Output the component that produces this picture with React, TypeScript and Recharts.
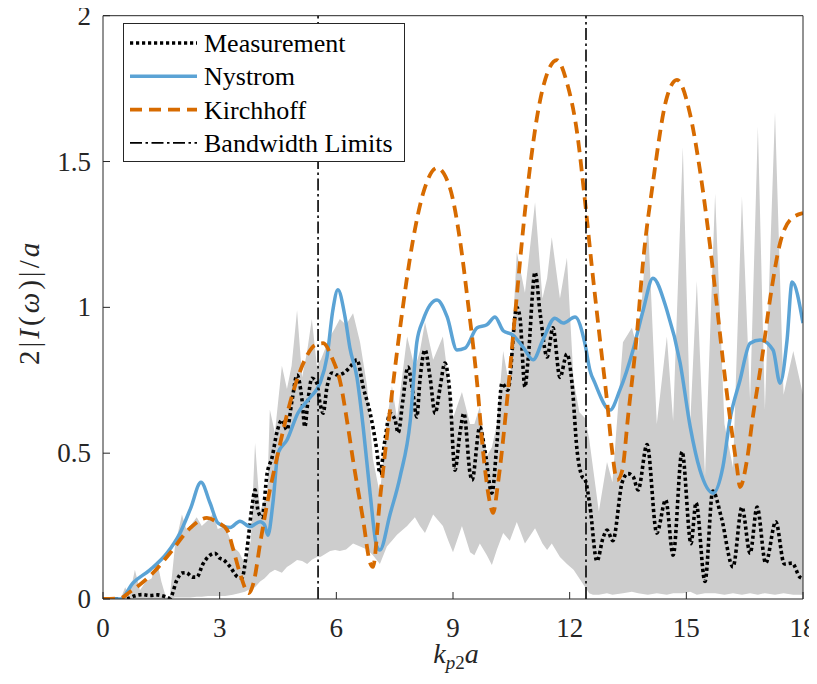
import React from "react";
import { Area, ComposedChart, Legend, Line, ReferenceLine, XAxis, YAxis } from "recharts";

// gray envelope of the measurements (shared x, low / high edge)
const bandX = [
  0, 0.45, 0.57, 0.68, 0.82, 0.95, 1.1, 1.25, 1.39, 1.5, 1.62, 1.72, 1.85, 2.03, 2.14, 2.24, 2.41,
  2.54, 2.7, 2.84, 2.95, 3.14, 3.34, 3.5, 3.65, 3.8, 3.91, 4.04, 4.15, 4.22, 4.29, 4.42, 4.6, 4.73,
  4.85, 4.99, 5.12, 5.25, 5.37, 5.5, 5.6, 5.84, 5.97, 6.09, 6.25, 6.43, 6.61, 6.79, 6.94, 7.12, 7.3,
  7.43, 7.56, 7.82, 8.02, 8.15, 8.28, 8.49, 8.74, 8.88, 9.0, 9.23, 9.44, 9.55, 9.69, 9.87, 10.0,
  10.13, 10.29, 10.46, 10.64, 10.85, 11.11, 11.3, 11.42, 11.54, 11.75, 11.93, 12.1, 12.25, 12.4,
  12.5, 12.6, 12.75, 12.96, 13.1, 13.37, 13.6, 13.76, 14.01, 14.24, 14.5, 14.66, 14.91, 15.1, 15.27,
  15.48, 15.74, 15.98, 16.2, 16.43, 16.64, 16.84, 17.02, 17.28, 17.5, 17.75, 18,
];
const bandLow = [
  0, 0, 0, 0, 0, 0, 0, 0, 0, 0, 0, 0, 0.005, 0.005, 0.005, 0.005, 0.008, 0.008, 0.01, 0.01, 0.01,
  0.01, 0.015, 0.02, 0.025, 0.035, 0.04, 0.06, 0.07, 0.08, 0.09, 0.1, 0.09, 0.11, 0.12, 0.134, 0.13,
  0.12, 0.135, 0.144, 0.145, 0.165, 0.168, 0.165, 0.17, 0.19, 0.18, 0.17, 0.15, 0.12, 0.18, 0.2, 0.22,
  0.25, 0.28, 0.25, 0.226, 0.29, 0.25, 0.2, 0.16, 0.25, 0.16, 0.15, 0.19, 0.15, 0.117, 0.17, 0.226,
  0.2, 0.264, 0.19, 0.243, 0.19, 0.168, 0.19, 0.144, 0.12, 0.1, 0.07, 0.04, 0.02, 0.015, 0.015, 0.02,
  0.015, 0.02, 0.025, 0.02, 0.015, 0.02, 0.015, 0.02, 0.02, 0.025, 0.015, 0.02, 0.02, 0.015, 0.02,
  0.015, 0.02, 0.015, 0.02, 0.015, 0.02, 0.015, 0.015,
];
const bandHigh = [
  0, 0, 0.04, 0.01, 0.1, 0.03, 0.06, 0.07, 0.13, 0.06, 0.005, 0.01, 0.18, 0.29, 0.24, 0.25, 0.28,
  0.25, 0.27, 0.295, 0.24, 0.25, 0.18, 0.16, 0.12, 0.2, 0.535, 0.3, 0.34, 0.35, 0.65, 0.57, 0.8, 0.72,
  0.8, 0.99, 0.76, 0.85, 0.96, 0.8, 0.82, 0.9, 0.93, 0.96, 0.94, 0.98, 0.88, 0.73, 0.48, 0.36, 0.61,
  0.73, 0.62, 0.9, 0.79, 0.85, 0.95, 0.82, 0.9, 0.75, 0.62, 0.71, 0.6, 0.6, 0.66, 0.49, 0.52, 0.6,
  0.85, 0.72, 1.19, 1.05, 1.36, 1.03, 1.1, 1.24, 1.03, 1.17, 0.75, 0.64, 0.62, 0.55, 0.45, 0.3, 0.47,
  0.4, 0.88, 0.93, 0.85, 1.3, 0.6, 0.9, 0.61, 1.55, 0.6, 1.09, 0.42, 1.39, 0.6, 0.45, 1.38, 0.68,
  1.62, 0.65, 1.67, 0.7, 0.85, 0.7,
];

const measX = [
  0, 0.6, 0.8, 1.0, 1.2, 1.4, 1.55, 1.72, 1.9, 2.03, 2.14, 2.31, 2.41, 2.57, 2.75, 2.88, 3.0, 3.1,
  3.27, 3.47, 3.57, 3.7, 3.83, 3.91, 3.99, 4.09, 4.22, 4.35, 4.47, 4.6, 4.73, 4.86, 4.99, 5.12, 5.19,
  5.27, 5.37, 5.5, 5.58, 5.66, 5.76, 5.89, 6.02, 6.22, 6.35, 6.53, 6.69, 6.87, 7.04, 7.12, 7.25, 7.38,
  7.51, 7.59, 7.71, 7.84, 7.97, 8.07, 8.15, 8.28, 8.41, 8.54, 8.67, 8.79, 8.92, 9.05, 9.18, 9.28,
  9.44, 9.49, 9.69, 9.82, 10.0, 10.13, 10.26, 10.41, 10.64, 10.72, 10.85, 10.93, 11.11, 11.24, 11.42,
  11.57, 11.75, 11.93, 12.06, 12.19, 12.32, 12.4, 12.52, 12.7, 12.86, 12.96, 13.11, 13.35, 13.5,
  13.63, 13.76, 13.99, 14.24, 14.47, 14.66, 14.89, 15.12, 15.25, 15.48, 15.68, 15.9, 16.2, 16.43,
  16.64, 16.82, 17.04, 17.3, 17.52, 17.72, 17.92, 18,
];
const measY = [
  0, 0, 0.01, 0.015, 0.012, 0.014, 0.01, 0.003, 0.065, 0.089, 0.09, 0.075, 0.075, 0.12, 0.15, 0.157,
  0.14, 0.134, 0.11, 0.075, 0.072, 0.168, 0.315, 0.374, 0.3, 0.28, 0.43, 0.487, 0.57, 0.614, 0.58,
  0.68, 0.768, 0.68, 0.59, 0.68, 0.757, 0.74, 0.672, 0.637, 0.727, 0.775, 0.768, 0.778, 0.795, 0.82,
  0.727, 0.637, 0.51, 0.43, 0.545, 0.637, 0.614, 0.57, 0.68, 0.795, 0.706, 0.624, 0.75, 0.854, 0.76,
  0.637, 0.727, 0.809, 0.706, 0.442, 0.57, 0.637, 0.43, 0.408, 0.59, 0.51, 0.363, 0.535, 0.74, 0.716,
  1.0, 0.967, 0.727, 0.82, 1.12, 0.98, 0.83, 0.93, 0.76, 0.84, 0.74, 0.51, 0.42, 0.408, 0.32, 0.13,
  0.21, 0.236, 0.2, 0.4, 0.43, 0.42, 0.374, 0.53, 0.226, 0.34, 0.15, 0.505, 0.19, 0.33, 0.06, 0.37,
  0.28, 0.11, 0.315, 0.157, 0.315, 0.123, 0.265, 0.12, 0.123, 0.075, 0.07,
];

const nystromX = [
  0, 0.45, 0.77, 1.21, 1.65, 1.98, 2.25, 2.52, 2.75, 2.96, 3.27, 3.52, 3.78, 4.04, 4.15, 4.24, 4.37,
  4.5, 4.73, 5.01, 5.32, 5.58, 5.76, 5.91, 6.04, 6.22, 6.35, 6.53, 6.69, 6.87, 7.04, 7.12, 7.38, 7.64,
  7.9, 8.07, 8.23, 8.59, 8.85, 9.1, 9.31, 9.62, 9.87, 10.08, 10.29, 10.54, 10.8, 11.06, 11.31, 11.62,
  11.83, 12.14, 12.39, 12.52, 12.65, 13.04, 13.29, 13.63, 13.89, 14.14, 14.5, 14.84, 15.1, 15.35,
  15.69, 15.94, 16.12, 16.38, 16.64, 16.9, 17.23, 17.41, 17.59, 17.72, 18,
];
const nystromY = [
  0, 0, 0.055, 0.1, 0.158, 0.226, 0.31, 0.4, 0.33, 0.26, 0.245, 0.267, 0.248, 0.265, 0.255, 0.219,
  0.33, 0.5, 0.545, 0.637, 0.69, 0.74, 0.83, 0.99, 1.06, 0.97, 0.86, 0.76, 0.59, 0.36, 0.18, 0.168,
  0.29, 0.42, 0.61, 0.88, 0.956, 1.025, 0.967, 0.854, 0.86, 0.93, 0.94, 0.967, 0.92, 0.905, 0.864,
  0.82, 0.888, 0.963, 0.946, 0.967, 0.877, 0.785, 0.74, 0.648, 0.716, 0.854, 0.99, 1.1, 0.99, 0.81,
  0.59, 0.442, 0.363, 0.453, 0.614, 0.75, 0.877, 0.888, 0.854, 0.74, 0.888, 1.087, 0.946,
];

const kirchhoffX = [
  0, 0.45, 0.69, 1.29, 1.72, 2.24, 2.67, 2.93, 3.19, 3.35, 3.52, 3.75, 3.88, 4.04, 4.24, 4.5, 4.76,
  5.01, 5.25, 5.45, 5.66, 5.91, 6.09, 6.3, 6.43, 6.69, 6.87, 6.94, 7.12, 7.38, 7.64, 7.97, 8.23, 8.59,
  8.92, 9.18, 9.39, 9.62, 9.77, 9.95, 10.03, 10.16, 10.39, 10.59, 10.9, 11.24, 11.67, 11.93, 12.19,
  12.39, 12.57, 12.78, 12.96, 13.09, 13.22, 13.35, 13.5, 13.73, 13.89, 14.14, 14.5, 14.76, 15.09,
  15.35, 15.61, 15.79, 15.94, 16.12, 16.3, 16.38, 16.56, 16.71, 16.94, 17.15, 17.41, 17.67, 18,
];
const kirchhoffY = [
  0, 0.003, 0.024, 0.09, 0.157, 0.243, 0.278, 0.264, 0.237, 0.17, 0.089, 0.02, 0.06, 0.19, 0.34, 0.5,
  0.648, 0.76, 0.836, 0.87, 0.877, 0.82, 0.75, 0.59, 0.476, 0.27, 0.123, 0.11, 0.34, 0.648, 0.93,
  1.23, 1.39, 1.478, 1.41, 1.23, 1.01, 0.74, 0.51, 0.33, 0.295, 0.4, 0.68, 0.967, 1.39, 1.71, 1.848,
  1.77, 1.6, 1.37, 1.14, 0.888, 0.68, 0.51, 0.408, 0.44, 0.624, 0.91, 1.16, 1.426, 1.72, 1.78, 1.666,
  1.47, 1.21, 1.0, 0.82, 0.624, 0.453, 0.384, 0.477, 0.624, 0.82, 1.025, 1.22, 1.3, 1.323,
];

const bandwidthLimits = [5.53, 12.42];
const xTicks = [0, 3, 6, 9, 12, 15, 18];
const yTicks = [0, 0.5, 1, 1.5, 2];

const bandRows = bandX.map((x, i) => ({ x, range: [bandLow[i], bandHigh[i]] }));
const measRows = measX.map((x, i) => ({ x, y: measY[i] }));
const nystromRows = nystromX.map((x, i) => ({ x, y: nystromY[i] }));
const kirchhoffRows = kirchhoffX.map((x, i) => ({ x, y: kirchhoffY[i] }));

const axisColor = "#262626";
const serif = "'Liberation Serif', 'Times New Roman', serif";
const blue = "#5BA3D5";
const orange = "#D76B00";
const dotDash = "3.2 2.8";
const kirchDash = "12 7";
const bwDash = "12 3.5 2.5 3.5";

const legendItems = [
  { name: "Measurement", color: "#000", width: 3.6, dash: dotDash },
  { name: "Nystrom", color: blue, width: 3.5, dash: undefined },
  { name: "Kirchhoff", color: orange, width: 3.8, dash: kirchDash },
  { name: "Bandwidth Limits", color: "#000", width: 1.6, dash: bwDash },
];

function BottomTick(props: any) {
  const { x, y, payload } = props;
  return (
    <g>
      <line x1={x} y1={y} x2={x} y2={y - 7} stroke={axisColor} strokeWidth={1} />
      <text x={x} y={y + 38} textAnchor="middle" fontSize={27} fontFamily={serif} fill={axisColor}>
        {payload.value}
      </text>
    </g>
  );
}

function LeftTick(props: any) {
  const { x, y, payload } = props;
  return (
    <g>
      <line x1={x} y1={y} x2={x + 7} y2={y} stroke={axisColor} strokeWidth={1} />
      <text x={x - 12} y={y + 9} textAnchor="end" fontSize={27} fontFamily={serif} fill={axisColor}>
        {payload.value}
      </text>
    </g>
  );
}

function TopTick(props: any) {
  const { x, y } = props;
  return <line x1={x} y1={y} x2={x} y2={y + 7} stroke={axisColor} strokeWidth={1} />;
}

function RightTick(props: any) {
  const { x, y } = props;
  return <line x1={x} y1={y} x2={x - 7} y2={y} stroke={axisColor} strokeWidth={1} />;
}

function XTitle(props: any) {
  const vb = props.viewBox;
  return (
    <text x={vb.x + vb.width / 2 + 3} y={vb.y + 64} textAnchor="middle" fontSize={28} fontFamily={serif} fill={axisColor}>
      <tspan fontStyle="italic">k</tspan>
      <tspan fontSize={19} dy={6} fontStyle="italic">p</tspan>
      <tspan fontSize={19}>2</tspan>
      <tspan dy={-6} fontStyle="italic">a</tspan>
    </text>
  );
}

function YTitle(props: any) {
  const vb = props.viewBox;
  const cx = vb.x - 4;
  const cy = vb.y + vb.height / 2 - 5;
  return (
    <text
      transform={`rotate(-90 ${cx} ${cy})`}
      x={cx}
      y={cy}
      textAnchor="middle"
      fontSize={29}
      letterSpacing={3}
      fontFamily={serif}
      fill={axisColor}
    >
      2|<tspan fontStyle="italic">I</tspan>(<tspan fontStyle="italic">ω</tspan>)|/
      <tspan fontStyle="italic">a</tspan>
    </text>
  );
}

function LegendBox() {
  return (
    <div
      style={{
        width: 282,
        height: 139,
        boxSizing: "border-box",
        border: `1px solid ${axisColor}`,
        background: "#fff",
      }}
    >
      <svg width={280} height={137}>
        {legendItems.map((item, i) => {
          const cy = 19 + i * 33.3;
          return (
            <g key={item.name}>
              <line
                x1={6}
                x2={73}
                y1={cy}
                y2={cy}
                stroke={item.color}
                strokeWidth={item.width}
                strokeDasharray={item.dash}
              />
              <text x={80} y={cy + 9} fontSize={26} fontFamily={serif} fill="#000">
                {item.name}
              </text>
            </g>
          );
        })}
      </svg>
    </div>
  );
}

export default function App() {
  return (
    <div style={{ width: 817, height: 684, margin: -8 }}>
      <ComposedChart
        width={817}
        height={684}
        margin={{ top: 10.7, right: 4, bottom: 25, left: 43 }}
        style={{ overflow: "visible" }}
      >
        <XAxis
          dataKey="x"
          type="number"
          domain={[0, 18]}
          ticks={xTicks}
          allowDataOverflow
          height={60}
          tickSize={0}
          tickMargin={0}
          tick={BottomTick}
          stroke={axisColor}
          label={<XTitle />}
        />
        <XAxis
          xAxisId="top"
          orientation="top"
          type="number"
          domain={[0, 18]}
          ticks={xTicks}
          height={5}
          tickSize={0}
          tickMargin={0}
          tick={TopTick}
          stroke={axisColor}
        />
        <YAxis
          type="number"
          domain={[0, 2]}
          ticks={yTicks}
          allowDataOverflow
          width={60}
          tickSize={0}
          tickMargin={0}
          tick={LeftTick}
          stroke={axisColor}
          label={<YTitle />}
        />
        <YAxis
          yAxisId="right"
          orientation="right"
          type="number"
          domain={[0, 2]}
          ticks={yTicks}
          width={10}
          tickSize={0}
          tickMargin={0}
          tick={RightTick}
          stroke={axisColor}
        />
        <Area
          data={bandRows}
          dataKey="range"
          type="linear"
          stroke="none"
          fill="#cdcdcd"
          fillOpacity={1}
          legendType="none"
          isAnimationActive={false}
        />
        <Line
          data={measRows}
          dataKey="y"
          name="Measurement"
          type="monotone"
          stroke="#000"
          strokeWidth={3.6}
          strokeDasharray={dotDash}
          dot={false}
          isAnimationActive={false}
        />
        <Line
          data={nystromRows}
          dataKey="y"
          name="Nystrom"
          type="monotone"
          stroke={blue}
          strokeWidth={3.5}
          dot={false}
          isAnimationActive={false}
        />
        <Line
          data={kirchhoffRows}
          dataKey="y"
          name="Kirchhoff"
          type="monotone"
          stroke={orange}
          strokeWidth={3.8}
          strokeDasharray={kirchDash}
          dot={false}
          isAnimationActive={false}
        />
        {bandwidthLimits.map((v) => (
          <ReferenceLine key={v} x={v} stroke="#000" strokeWidth={1.6} strokeDasharray={bwDash} />
        ))}
        <Legend
          layout="horizontal"
          verticalAlign="middle"
          align="center"
          content={<LegendBox />}
          wrapperStyle={{ left: 123, top: 23, width: 282, height: 139 }}
        />
      </ComposedChart>
    </div>
  );
}
